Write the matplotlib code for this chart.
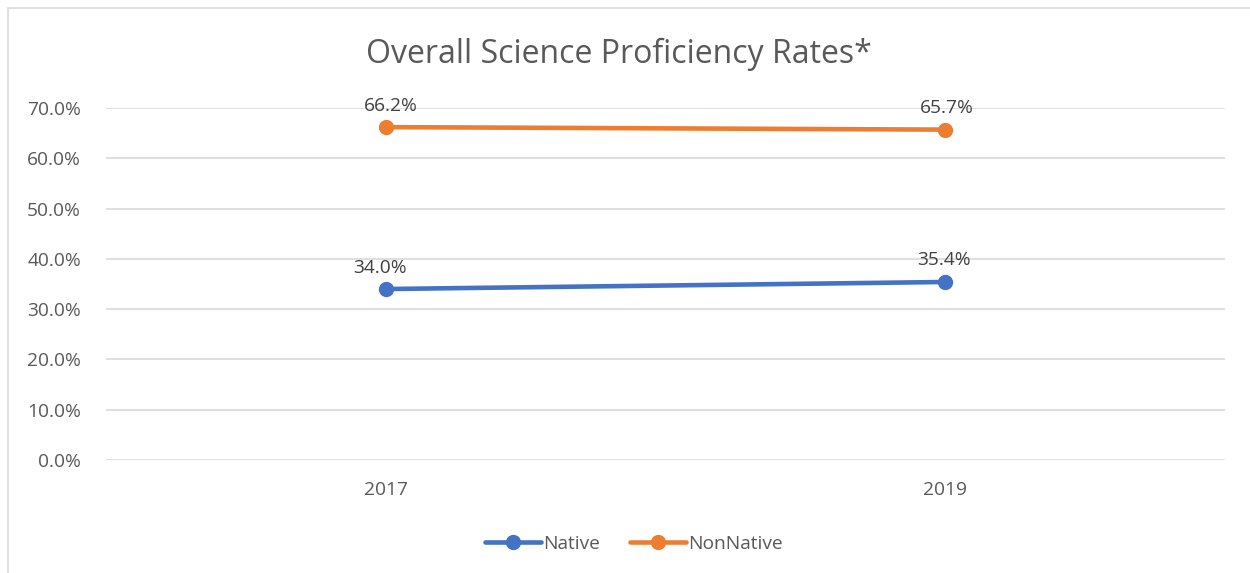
import matplotlib
matplotlib.use("Agg")
import matplotlib.pyplot as plt
from matplotlib.patches import Rectangle
from matplotlib.ticker import FuncFormatter

years = ["2017", "2019"]
native = [0.340, 0.354]
nonnative = [0.662, 0.657]
title = "Overall Science Proficiency Rates*"

plt.rcParams['font.family'] = ['Open Sans', 'DejaVu Sans']
txt = '#595959'
fs = 13.8

fig = plt.figure(figsize=(12.5, 5.73), dpi=100)
W, H = 1250, 573
fig.patches.append(Rectangle((8/W, -0.1), 1.2, 1 - 8/H + 0.1, transform=fig.transFigure,
                             fill=False, edgecolor='#d9d9d9', linewidth=1.2))

ax = fig.add_axes([106/W, 1 - 460/H, 1119/W, 352/H])
x = list(range(len(years)))
c_nat = '#4472c4'
c_non = '#ed7d31'
ax.plot(x, native, color=c_nat, lw=3.3, marker='o', ms=10, label='Native', solid_capstyle='round')
ax.plot(x, nonnative, color=c_non, lw=3.3, marker='o', ms=10, label='NonNative', solid_capstyle='round')

nat_dx = [-4, -1]
non_dx = [4, 1]
for xi, v, dx in zip(x, native, nat_dx):
    ax.annotate(f"{v*100:.1f}%", (xi, v), xytext=(dx, 9), textcoords='offset points',
                ha='center', va='bottom', fontsize=fs, color='#404040')
for xi, v, dx in zip(x, nonnative, non_dx):
    ax.annotate(f"{v*100:.1f}%", (xi, v), xytext=(dx, 9), textcoords='offset points',
                ha='center', va='bottom', fontsize=fs, color='#404040')

ax.set_xlim(-0.5, len(years) - 0.5)
ax.set_ylim(0, 0.7)
ax.set_yticks([i / 10 for i in range(8)])
ax.yaxis.set_major_formatter(FuncFormatter(lambda v, p: f"{v*100:.1f}%"))
ax.set_xticks(x)
ax.set_xticklabels(years)
ax.tick_params(axis='both', length=0, labelsize=fs, labelcolor=txt)
ax.tick_params(axis='y', pad=18)
ax.tick_params(axis='x', pad=15)
ax.grid(axis='y', color='#d9d9d9', lw=1.2)
ax.set_axisbelow(True)
for s in ax.spines.values():
    s.set_visible(False)

fig.text(619/W, 1 - 54/H, title, ha='center', va='center', fontsize=23, color=txt)

leg = fig.legend(loc='center', bbox_to_anchor=(634/W, 1 - 544/H), ncol=2, frameon=False,
                 fontsize=fs, handlelength=2.9, columnspacing=1.6, handletextpad=0.1)
for t in leg.get_texts():
    t.set_color(txt)

fig.savefig('out.png', dpi=100)
